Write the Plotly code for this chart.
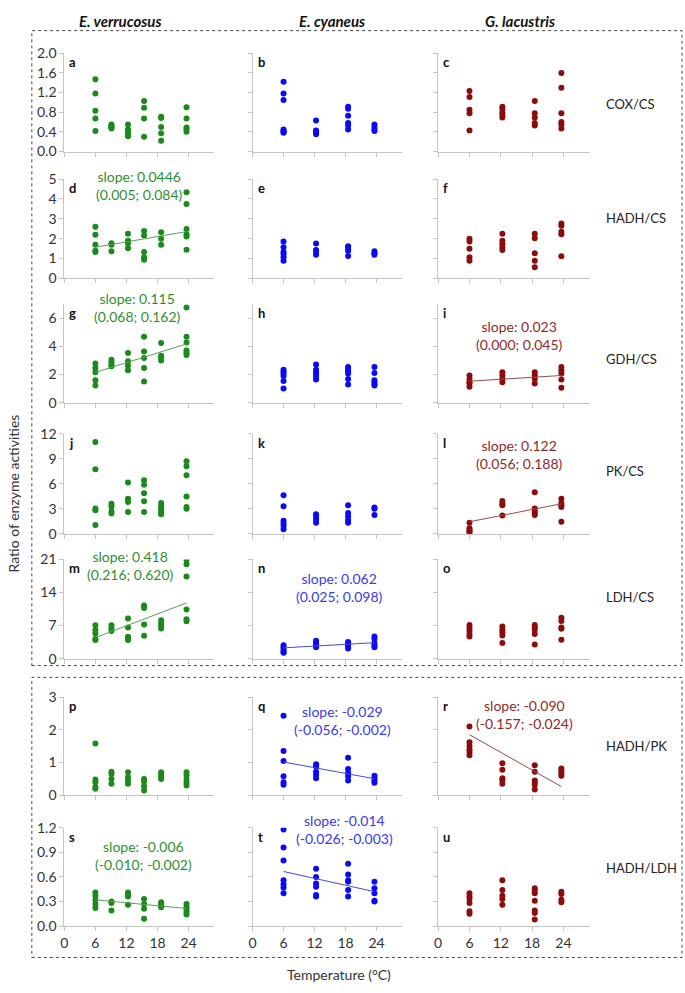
import plotly.graph_objects as go

W, H = 685, 993

# ---------------- data ----------------
species = ["E. verrucosus", "E. cyaneus", "G. lacustris"]
ratios = ["COX/CS", "HADH/CS", "GDH/CS", "PK/CS", "LDH/CS", "HADH/PK", "HADH/LDH"]
letters = list("abcdefghijklmnopqrstu")

temps_ev = [6, 9.1, 12.3, 15.4, 18.7, 23.6]
temps_ec = [6, 12.3, 18.5, 23.6]
temps_gl = [6, 12.3, 18.5, 23.6]

# E. verrucosus
ev_cox_cs = [[1.47, 1.18, 0.83, 0.67, 0.42], [0.55, 0.52, 0.49, 0.47, 0.50], [0.55, 0.45, 0.38, 0.31, 0.35],
             [1.03, 0.89, 0.67, 0.30], [0.71, 0.68, 0.50, 0.37, 0.22], [0.90, 0.67, 0.49, 0.45, 0.40]]
ev_hadh_cs = [[2.60, 2.19, 1.69, 1.39, 1.32], [1.77, 1.69, 1.36], [2.25, 1.89, 1.77, 1.52],
              [2.38, 2.15, 1.32, 1.06, 0.94], [2.32, 1.99, 1.69], [4.34, 3.74, 2.48, 2.22, 2.10, 1.44]]
ev_gdh_cs = [[2.78, 2.47, 2.16, 1.60, 1.22], [3.06, 2.87, 2.70, 2.59], [3.53, 2.94, 2.64, 2.31],
             [4.70, 3.65, 3.18, 2.47, 1.51], [4.24, 3.34, 3.18, 3.01], [6.78, 4.70, 4.28, 3.72, 3.53, 3.39]]
ev_pk_cs = [[11.0, 7.73, 3.03, 2.84, 1.06], [3.60, 3.29, 2.74, 2.43], [6.14, 4.19, 3.80, 2.62],
            [6.42, 5.87, 4.85, 3.91, 2.62], [3.68, 3.29, 3.01, 2.74, 2.50, 2.35], [8.69, 8.10, 7.00, 4.46, 3.21, 3.01]]
ev_ldh_cs = [[7.09, 6.05, 5.35, 4.17, 3.96], [7.09, 6.40, 5.84], [8.48, 6.61, 4.66, 3.96, 4.30],
             [11.27, 10.71, 7.23, 4.87], [8.14, 7.44, 6.95, 6.40], [20.86, 19.96, 17.39, 10.43, 8.34, 7.93]]
ev_hadh_pk = [[1.58, 0.48, 0.40, 0.25, 0.20], [0.72, 0.65, 0.50, 0.35], [0.70, 0.55, 0.45, 0.35],
              [0.50, 0.42, 0.28, 0.15], [0.70, 0.62, 0.55, 0.50], [0.70, 0.62, 0.50, 0.40, 0.30]]
ev_hadh_ldh = [[0.41, 0.37, 0.32, 0.27, 0.22], [0.30, 0.28, 0.19], [0.41, 0.38, 0.36, 0.26],
               [0.33, 0.27, 0.21, 0.09], [0.29, 0.26, 0.23, 0.25], [0.27, 0.23, 0.20, 0.17, 0.14]]

# E. cyaneus
ec_cox_cs = [[1.42, 1.18, 1.05, 0.45, 0.42, 0.40, 0.38], [0.63, 0.43, 0.40, 0.38, 0.35],
             [0.91, 0.87, 0.73, 0.58, 0.53, 0.45], [0.55, 0.50, 0.45, 0.42]]
ec_hadh_cs = [[1.85, 1.56, 1.32, 1.23, 1.06, 0.89], [1.75, 1.42, 1.32, 1.19],
              [1.61, 1.49, 1.39, 1.13], [1.36, 1.26, 1.19]]
ec_gdh_cs = [[2.35, 2.20, 2.05, 1.90, 1.55, 1.00], [2.71, 2.35, 2.16, 2.00, 1.84, 1.65],
             [2.54, 2.40, 2.24, 2.07, 1.69, 1.29], [2.54, 2.12, 1.60, 1.46, 1.29, 1.22]]
ec_pk_cs = [[4.63, 3.29, 1.57, 1.25, 0.94, 0.55], [2.35, 2.04, 1.73, 1.33],
            [3.41, 2.51, 2.12, 1.65, 1.33], [3.14, 3.00, 2.27]]
ec_ldh_cs = [[2.84, 2.43, 1.94, 1.46, 1.25], [3.81, 3.33, 2.84, 2.43],
             [3.53, 3.12, 2.63, 2.15], [4.71, 4.23, 3.33, 2.84, 2.43]]
ec_hadh_pk = [[2.43, 1.35, 1.05, 0.58, 0.40, 0.32], [0.95, 0.88, 0.72, 0.62, 0.52],
              [1.15, 0.80, 0.68, 0.58, 0.45], [0.60, 0.52, 0.45, 0.38]]
ec_hadh_ldh = [[1.18, 0.96, 0.80, 0.56, 0.51, 0.47, 0.40], [0.70, 0.60, 0.52, 0.48, 0.38, 0.36],
               [0.76, 0.63, 0.56, 0.54, 0.44, 0.36], [0.54, 0.46, 0.40, 0.31, 0.30]]

# G. lacustris
gl_cox_cs = [[1.23, 1.11, 0.85, 0.78, 0.43], [0.91, 0.87, 0.80, 0.75, 0.69],
             [1.03, 0.78, 0.69, 0.58, 0.53], [1.60, 1.30, 0.78, 0.60, 0.55, 0.47]]
gl_hadh_cs = [[1.99, 1.85, 1.49, 1.06, 0.89], [2.25, 1.89, 1.72, 1.56, 1.42],
              [2.25, 2.02, 1.26, 0.89, 0.56], [2.76, 2.65, 2.35, 2.22, 1.11]]
gl_gdh_cs = [[1.93, 1.69, 1.46, 1.36, 1.13], [2.16, 1.93, 1.69, 1.46],
             [2.16, 1.93, 1.69, 1.36], [2.54, 2.31, 2.07, 1.65, 1.06]]
gl_pk_cs = [[1.33, 0.67, 0.47, 0.27, 0.16], [3.92, 3.61, 3.41, 2.20],
            [4.98, 3.02, 2.75, 2.51, 2.27], [4.20, 3.69, 3.41, 3.22, 1.45]]
gl_ldh_cs = [[7.14, 6.58, 5.89, 5.20, 4.71], [6.79, 6.10, 5.61, 4.92, 3.33],
             [7.14, 6.58, 6.10, 5.20, 2.98], [8.66, 7.97, 6.58, 6.31, 4.02]]
gl_hadh_pk = [[2.10, 1.62, 1.50, 1.40, 1.32, 1.22], [0.98, 0.78, 0.52, 0.45, 0.35],
              [0.92, 0.72, 0.45, 0.38, 0.32, 0.18], [0.82, 0.75, 0.68, 0.60]]
gl_hadh_ldh = [[0.40, 0.36, 0.33, 0.28, 0.18, 0.15], [0.56, 0.44, 0.37, 0.33, 0.26],
               [0.46, 0.43, 0.40, 0.31, 0.19, 0.16, 0.08], [0.42, 0.39, 0.32, 0.29]]

# regression fits (panel letter, slope label, CI label, slope, intercept)
fit_letters = ["d", "g", "m", "s", "n", "q", "t", "i", "l", "r"]
fit_slope_labels = ["0.0446", "0.115", "0.418", "-0.006", "0.062", "-0.029", "-0.014", "0.023", "0.122", "-0.090"]
fit_ci_labels = ["(0.005; 0.084)", "(0.068; 0.162)", "(0.216; 0.620)", "(-0.010; -0.002)",
                 "(0.025; 0.098)", "(-0.056; -0.002)", "(-0.026; -0.003)", "(0.000; 0.045)",
                 "(0.056; 0.188)", "(-0.157; -0.024)"]
fit_slopes = [0.0446, 0.115, 0.418, -0.006, 0.062, -0.029, -0.014, 0.023, 0.122, -0.090]
fit_intercepts = [1.30, 1.47, 1.94, 0.356, 1.92, 1.19, 0.75, 1.39, 0.72, 2.39]

y_max = [2.0, 5, 7, 12, 21, 3, 1.2]
y_tickvals = [[0, 0.4, 0.8, 1.2, 1.6, 2.0], [0, 1, 2, 3, 4, 5], [0, 2, 4, 6], [0, 3, 6, 9, 12],
              [0, 7, 14, 21], [0, 1, 2, 3], [0, 0.3, 0.6, 0.9, 1.2]]
y_tickformat = [".1f", "d", "d", "d", "d", "d", ".1f"]
x_tickvals = [0, 6, 12, 18, 24]

# ---------------- layout helpers ----------------
FONT = "Lato, 'Open Sans', sans-serif"
colors = ["#1b891b", "#0a0af5", "#8b0c0c"]
line_colors = ["#5a9e5a", "#4a4ad8", "#9a4a4a"]
text_colors = ["#2f8f2f", "#3a3ae8", "#8e2a2a"]

col_px = [(60.7, 211.7), (250.0, 400.7), (436.7, 589.0)]
row_px = [(45, 145), (173, 274), (300.5, 400.5), (432, 534), (560, 661), (700, 800), (833, 933)]


def px_x(x):
    return x / W


def px_y(y):
    return 1 - y / H


data_grid = [
    [ev_cox_cs, ec_cox_cs, gl_cox_cs],
    [ev_hadh_cs, ec_hadh_cs, gl_hadh_cs],
    [ev_gdh_cs, ec_gdh_cs, gl_gdh_cs],
    [ev_pk_cs, ec_pk_cs, gl_pk_cs],
    [ev_ldh_cs, ec_ldh_cs, gl_ldh_cs],
    [ev_hadh_pk, ec_hadh_pk, gl_hadh_pk],
    [ev_hadh_ldh, ec_hadh_ldh, gl_hadh_ldh],
]
temps = [temps_ev, temps_ec, temps_gl]

fig = go.Figure()
layout = dict(
    width=W, height=H, margin=dict(l=0, r=0, t=0, b=0),
    paper_bgcolor="white", plot_bgcolor="white", showlegend=False, hovermode=False,
    font=dict(family=FONT, size=14, color="#333333"),
)
annotations = []
shapes = []

# annotation centers (pixels) for fit labels
fit_label_px = {"d": (136, 180), "g": (134, 304), "m": (127, 566), "s": (140, 861),
                "n": (337, 589), "q": (340, 724), "t": (343, 835),
                "i": (519, 332), "l": (519, 453), "r": (524, 718)}

for r in range(7):
    for c in range(3):
        k = r * 3 + c + 1
        xa = "x" if k == 1 else f"x{k}"
        ya = "y" if k == 1 else f"y{k}"
        xs, ys = [], []
        for t, vals in zip(temps[c], data_grid[r][c]):
            xs += [t] * len(vals)
            ys += vals
        fig.add_trace(go.Scatter(x=xs, y=ys, mode="markers", xaxis=xa, yaxis=ya,
                                 marker=dict(size=6, color=colors[c], line=dict(width=0)),
                                 hoverinfo="skip"))
        letter = letters[k - 1]
        if letter in fit_letters:
            i = fit_letters.index(letter)
            x0, x1 = min(temps[c]), max(temps[c])
            fig.add_trace(go.Scatter(
                x=[x0, x1],
                y=[fit_intercepts[i] + fit_slopes[i] * x0, fit_intercepts[i] + fit_slopes[i] * x1],
                mode="lines", xaxis=xa, yaxis=ya,
                line=dict(color=line_colors[c], width=1), hoverinfo="skip"))
            cx, cy = fit_label_px[letter]
            annotations.append(dict(
                x=px_x(cx), y=px_y(cy), xref="paper", yref="paper", showarrow=False,
                xanchor="center", yanchor="middle", align="center",
                text=f"slope: {fit_slope_labels[i]}<br>{fit_ci_labels[i]}",
                font=dict(family=FONT, size=14, color=text_colors[c])))
        x0p, x1p = col_px[c]
        y0p, y1p = row_px[r]
        axis_common = dict(showline=True, linecolor="#c4c4c4", linewidth=1, ticks="outside",
                           ticklen=4, tickcolor="#c4c4c4", tickwidth=1, showgrid=False,
                           zeroline=False, fixedrange=True,
                           tickfont=dict(family=FONT, size=14, color="#333333"))
        layout["xaxis" if k == 1 else f"xaxis{k}"] = dict(
            domain=[px_x(x0p), px_x(x1p)], range=[0, 29], anchor=ya,
            tickvals=x_tickvals, showticklabels=(r == 6), **axis_common)
        layout["yaxis" if k == 1 else f"yaxis{k}"] = dict(
            domain=[px_y(y1p), px_y(y0p)], range=[0, y_max[r]], anchor=xa,
            tickvals=y_tickvals[r], tickformat=y_tickformat[r], showticklabels=(c == 0),
            **axis_common)
        annotations.append(dict(
            x=px_x(x0p + 3), y=px_y(y0p - 1), xref="paper", yref="paper", showarrow=False,
            xanchor="left", yanchor="top", text=f"<b>{letter}</b>",
            font=dict(family=FONT, size=13, color="#111111")))

# row labels
row_label_y = [97, 213, 356, 470, 598, 750, 874]
for lab, yy in zip(ratios, row_label_y):
    annotations.append(dict(x=px_x(604), y=px_y(yy), xref="paper", yref="paper", showarrow=False,
                            xanchor="left", yanchor="middle", text=lab,
                            font=dict(family=FONT, size=13, color="#222222")))

# species titles
title_x = [117, 330, 519]
for sp, xx in zip(species, title_x):
    annotations.append(dict(x=px_x(xx), y=px_y(12), xref="paper", yref="paper", showarrow=False,
                            xanchor="center", yanchor="middle", text=f"<b><i>{sp}</i></b>",
                            font=dict(family=FONT, size=15, color="#111111")))

# axis titles
annotations.append(dict(x=px_x(337), y=px_y(982), xref="paper", yref="paper", showarrow=False,
                        xanchor="center", yanchor="middle", text="Temperature (°C)",
                        font=dict(family=FONT, size=14, color="#333333")))
annotations.append(dict(x=px_x(10), y=px_y(493), xref="paper", yref="paper", showarrow=False,
                        xanchor="center", yanchor="middle", textangle=-90,
                        text="Ratio of enzyme activities",
                        font=dict(family=FONT, size=14, color="#333333")))

# dotted boxes
for (y0, y1) in [(22, 668), (680, 965)]:
    shapes.append(dict(type="rect", xref="paper", yref="paper",
                       x0=px_x(28), x1=px_x(682), y0=px_y(y1), y1=px_y(y0),
                       line=dict(color="#444444", width=1, dash="dot"), fillcolor="rgba(0,0,0,0)"))

layout["annotations"] = annotations
layout["shapes"] = shapes
fig.update_layout(**layout)
fig.write_html("out.html", config={"displayModeBar": False, "staticPlot": True},
               post_script="document.body.style.margin='0';document.body.style.overflow='hidden';")
